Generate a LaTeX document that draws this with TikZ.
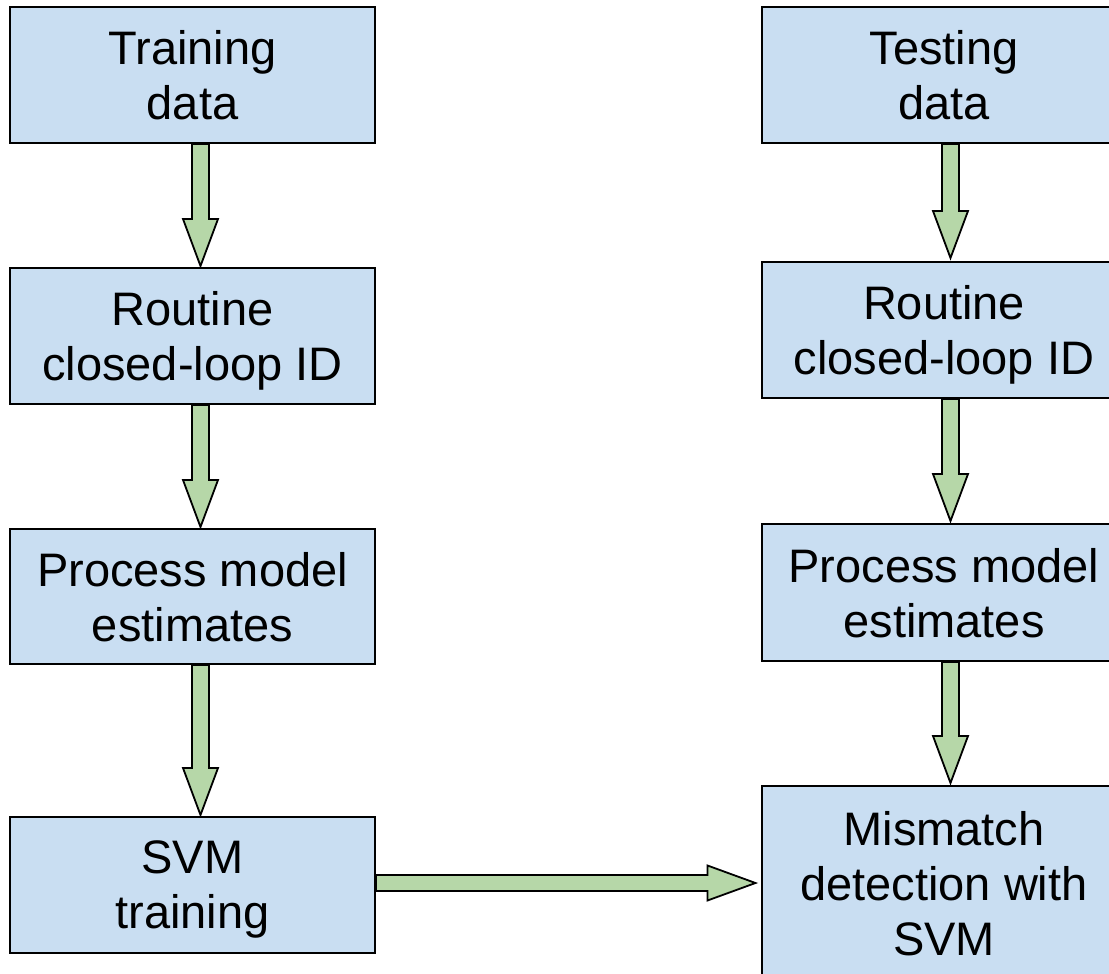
\documentclass[tikz,border=0pt]{standalone}
\usepackage{fontspec}
\setmainfont{Liberation Sans}
\usetikzlibrary{calc}
\definecolor{boxblue}{HTML}{C9DEF2}
\definecolor{arrowgreen}{HTML}{B6D7A8}
\tikzset{
  stage/.style={draw=black, line width=2pt, fill=boxblue, minimum width=365pt,
    inner sep=0pt, align=center, font=\fontsize{47}{55}\selectfont, text depth=0pt},
  flow/.style={draw=black, line width=1.8pt, fill=arrowgreen, line join=miter},
}
% downward block arrow: shaft from #1, tip at #2
\newcommand\downflow[2]{%
  \draw[flow] let \p1=(#1), \p2=(#2) in
    (\x1-8.5pt,\y1) -- (\x1-8.5pt,\y2+47pt) -- (\x1-17.5pt,\y2+47pt) -- (\x1,\y2)
    -- (\x1+17.5pt,\y2+47pt) -- (\x1+8.5pt,\y2+47pt) -- (\x1+8.5pt,\y1) -- cycle;}
% rightward block arrow: shaft from #1, tip at #2
\newcommand\rightflow[2]{%
  \draw[flow] let \p1=(#1), \p2=(#2) in
    (\x1,\y1+8pt) -- (\x2-48pt,\y1+8pt) -- (\x2-48pt,\y1+17.5pt) -- (\x2,\y1)
    -- (\x2-48pt,\y1-17.5pt) -- (\x2-48pt,\y1-8pt) -- (\x1,\y1-8pt) -- cycle;}
\begin{document}
\begin{tikzpicture}[x=1pt, y=-1pt]
  \clip (0,0) rectangle (1109,974);
  \fill[white] (0,0) rectangle (1109,974);

  % training branch
  \node[stage, minimum height=136pt] (train)  at (192.5,75)    {Training\\data};
  \node[stage, minimum height=136pt] (idL)    at (192.5,336)   {Routine\\closed-loop ID};
  \node[stage, minimum height=135pt] (pmL)    at (192.5,596.5) {Process model\\estimates};
  \node[stage, minimum height=136pt] (svmtr)  at (192.5,885)   {SVM\\training};

  % testing branch
  \node[stage, minimum height=136pt] (test)   at (944,75)      {Testing\\data};
  \node[stage, minimum height=136pt] (idR)    at (944,330)     {Routine\\closed-loop ID};
  \node[stage, minimum height=137pt] (pmR)    at (944,592.5)   {Process model\\estimates};
  \node[stage, minimum height=195pt] (detect) at (944,883.5)   {Mismatch\\detection with\\SVM};

  % flow arrows
  \downflow{[xshift=8pt]train.south}{[xshift=8pt,yshift=1pt]idL.north}
  \downflow{[xshift=8pt]idL.south}{[xshift=8pt,yshift=1pt]pmL.north}
  \downflow{[xshift=8pt]pmL.south}{[xshift=8pt,yshift=1pt]svmtr.north}

  \downflow{[xshift=6.5pt]test.south}{[xshift=6.5pt,yshift=3pt]idR.north}
  \downflow{[xshift=6.5pt]idR.south}{[xshift=6.5pt,yshift=2pt]pmR.north}
  \downflow{[xshift=6.5pt]pmR.south}{[xshift=6.5pt,yshift=2pt]detect.north}

  \coordinate (hstart) at ([yshift=2pt]svmtr.east);
  \coordinate (hend) at ([xshift=-5pt]hstart -| detect.west);
  \rightflow{hstart}{hend}
\end{tikzpicture}
\end{document}
